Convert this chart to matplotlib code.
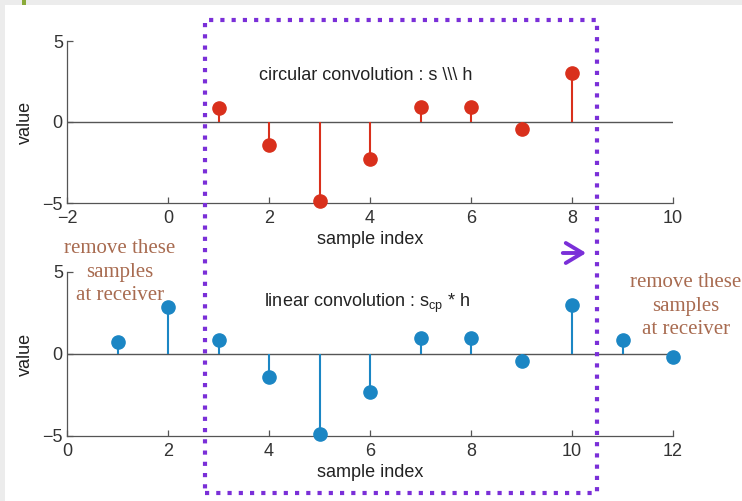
import numpy as np
import matplotlib
matplotlib.use('Agg')
from matplotlib import pyplot as plt
from matplotlib.patches import Rectangle

# circular convolution result (top) and linear convolution with cyclic prefix (bottom)
n_circ = [1, 2, 3, 4, 5, 6, 7, 8]
y_circ = [0.85, -1.4, -4.9, -2.3, 0.95, 0.95, -0.45, 3.0]
n_lin = [1, 2, 3, 4, 5, 6, 7, 8, 9, 10, 11, 12]
y_lin = [0.75, 2.85, 0.85, -1.4, -4.9, -2.3, 0.95, 0.95, -0.45, 3.0, 0.85, -0.2]

top_xticks = [-2, 0, 2, 4, 6, 8, 10]
bot_xticks = [0, 2, 4, 6, 8, 10, 12]
yticks = [-5, 0, 5]

red = '#d9301c'
blue = '#1b86c4'
purple = '#7a2fd8'
brown = '#a86b50'
axis_gray = '#555555'

plt.rcParams['font.family'] = ['Liberation Sans', 'DejaVu Sans']

fig = plt.figure(figsize=(7.42, 5.01), dpi=100, facecolor='#ececec')
# white page inside the light gray screenshot border
fig.patches.append(Rectangle((5 / 742, 0), 1, 1 - 5 / 501, transform=fig.transFigure,
                             facecolor='white', edgecolor='none', zorder=-10))
fig.patches.append(Rectangle((22 / 742, 1 - 5 / 501), 4 / 742, 5 / 501, transform=fig.transFigure,
                             facecolor='#8aaa3a', edgecolor='none', zorder=-9))

ax1 = fig.add_axes([67 / 742, 1 - 203 / 501, 606 / 742, 162 / 501])
ax2 = fig.add_axes([67 / 742, 1 - 436 / 501, 606 / 742, 164 / 501])


def style(ax, xticks, xlim):
    ax.set_facecolor('none')
    ax.set_xlim(xlim)
    ax.set_ylim(-5, 5)
    ax.set_xticks(xticks)
    ax.set_yticks(yticks)
    ax.spines['top'].set_visible(False)
    ax.spines['right'].set_visible(False)
    for s in ['left', 'bottom']:
        ax.spines[s].set_color(axis_gray)
        ax.spines[s].set_linewidth(0.9)
    ax.tick_params(direction='in', length=4, width=0.9, colors=axis_gray,
                   labelcolor='#333333', labelsize=13)
    ax.tick_params(axis='x', pad=5)
    ax.tick_params(axis='y', pad=3)
    ax.axhline(0, color=axis_gray, lw=1.0, zorder=1)
    ax.set_xlabel('sample index', fontsize=13, color='#222222', labelpad=3)
    ax.set_ylabel('value', fontsize=13, color='#222222', labelpad=6)


def stems(ax, n, y, color):
    ml, sl, bl = ax.stem(n, y, linefmt='-', markerfmt='o', basefmt=' ')
    plt.setp(sl, color=color, linewidth=1.5)
    plt.setp(ml, color=color, markersize=9.5, zorder=3, clip_on=False)


style(ax1, top_xticks, (-2, 10))
stems(ax1, n_circ, y_circ, red)
ax1.text(1.8, 2.9, 'circular convolution : s \\\\\\ h', fontsize=13, color='#222222',
         va='center', ha='left')

style(ax2, bot_xticks, (0, 12))
stems(ax2, n_lin, y_lin, blue)
ax2.text(3.9, 3.1, 'linear convolution : s$_{\\mathregular{cp}}$ * h', fontsize=13,
         color='#222222', va='center', ha='left')

# dotted box marking the kept samples
fig.patches.append(Rectangle((205 / 742, 1 - 493 / 501), 392 / 742, 473 / 501,
                             transform=fig.transFigure, fill=False, edgecolor=purple,
                             linewidth=3, linestyle=(0, (1, 1.7)), zorder=5))

ax2.annotate('', xy=(589 / 742, 1 - 253 / 501), xytext=(560 / 742, 1 - 253 / 501),
             xycoords='figure fraction', textcoords='figure fraction',
             arrowprops=dict(arrowstyle='->, head_length=0.5, head_width=0.3',
                             color=purple, lw=2.8, mutation_scale=24))

note = 'remove these\nsamples\nat receiver'
fig.text(120 / 742, 1 - 272 / 501, note, ha='center', va='center', fontsize=15,
         family='Liberation Serif', color=brown, linespacing=1.3)
fig.text(686 / 742, 1 - 306 / 501, note, ha='center', va='center', fontsize=15,
         family='Liberation Serif', color=brown, linespacing=1.3)

plt.savefig('out.png', dpi=100, facecolor=fig.get_facecolor())
